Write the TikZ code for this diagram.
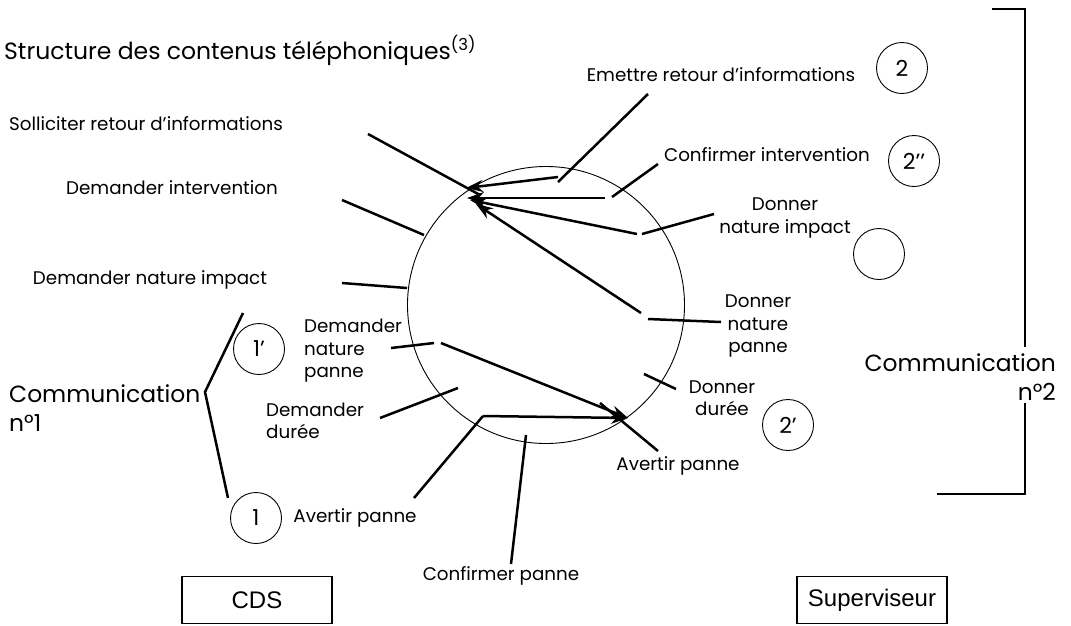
\documentclass[tikz,border=0pt]{standalone}
\usepackage{fontspec}
\setmainfont{Poppins}
\newfontfamily\boxfont{Liberation Sans}
\usetikzlibrary{arrows.meta}

\begin{document}
\begin{tikzpicture}[x=1pt,y=-1pt,>={Stealth[length=17pt,width=12pt]}]
\tikzstyle{lbl}=[inner sep=0pt,font=\fontsize{18.3}{22.5}\selectfont,align=center]
\tikzstyle{big}=[inner sep=0pt,font=\fontsize{23.4}{29}\selectfont]
\tikzstyle{tick}=[line width=2.5pt]
\tikzstyle{num}=[draw,circle,line width=.9pt,minimum size=51pt,inner sep=0pt,font=\fontsize{22}{22}\selectfont]
\tikzstyle{actor}=[draw,line width=1.2pt,minimum width=150pt,minimum height=47pt,inner sep=0pt,font=\boxfont\fontsize{24}{24}\selectfont]
\useasboundingbox (0,0) rectangle (1071,625);

% the exchange circle
\node[draw,circle,line width=.9pt,minimum size=277pt,inner sep=0pt] (cyc) at (546,305) {};

% ticks: outer end / inner end
\foreach \n/\ox/\oy/\ix/\iy in {sol/368/134/480/195, dint/342/200/424/235, dni/342/283/407/288,
  dnp/391/348/434/343, dd/380/418/458/388, apa/414/498/483/416, cp/511/564/526/435,
  apb/658/451/600/403, ddb/676/389/644/374, dnpb/721/322/648/319, dnib/714/214/642/234,
  ci/658/164/612/197, emr/648/94/558/182}
  {\coordinate (\n-o) at (\ox,\oy); \coordinate (\n-i) at (\ix,\iy); \draw[tick] (\n-o) -- (\n-i);}

% arrows
\coordinate (emr-s) at (558,177);
\coordinate (ci-s) at (605,198);
\coordinate (dnib-s) at (637,234);
\coordinate (dnpb-s) at (641,313);
\coordinate (dnp-s) at (441,343);
\coordinate (ta) at (466,188);
\coordinate (tb) at (467,198);
\coordinate (tc) at (470,200);
\coordinate (td) at (476,204);
\coordinate (te) at (628,418);
\draw[tick,->] (emr-s) -- (ta);
\draw[tick,->] (ci-s) -- (tb);
\draw[tick,->] (dnib-s) -- (tc);
\draw[tick,->] (dnpb-s) -- (td);
\draw[tick,->] (dnp-s) -- (te);
\draw[tick,->] (apa-i) -- (te);

% labels
\node[inner sep=0pt,anchor=west,font=\fontsize{23.5}{23.5}\selectfont] (title) at (4,50) {Structure des contenus téléphoniques\textsuperscript{(3)}};
\node[lbl] (l-emr) at (721,75) {Emettre retour d’informations};
\node[lbl] (l-sol) at (146,124) {Solliciter retour d’informations};
\node[lbl] (l-ci) at (767,155) {Confirmer intervention};
\node[lbl] (l-dint) at (172,188) {Demander intervention};
\node[lbl] (l-dnib) at (785,218) {Donner\\nature impact};
\node[lbl] (l-dni) at (150,280) {Demander nature impact};
\node[lbl] (l-dnpb) at (758,326) {Donner\\nature\\panne};
\node[lbl,anchor=west,align=left] (l-dnp) at (304,351) {Demander\\nature\\panne};
\node[lbl,anchor=west,align=left] (l-dd) at (266,421) {Demander\\durée};
\node[lbl] (l-ddb) at (722,398) {Donner\\durée};
\node[lbl] (l-apb) at (678,466) {Avertir panne};
\node[lbl] (l-apa) at (355,518) {Avertir panne};
\node[lbl] (l-cp) at (501,576) {Confirmer panne};

% step numbers
\node[num] (n2) at (902,68) {2};
\node[num] (n2b) at (914,161) {2’’};
\node[num] (n2c) at (879,254) {};
\node[num] (n1b) at (259,349) {1’};
\node[num] (n2a) at (788,425) {2’};
\node[num] (n1) at (256,518) {1};

% the two communications
\node[big,anchor=west,align=left] (com1) at (9,408) {Communication\\n°1};
\node[big,anchor=east,align=right] (com2) at (1056,377) {Communication\\n°2};
\draw[tick] (243,313) -- (205,392) -- (228,498);
\draw[tick] (992,9) -- (1025,9) -- (1025,347);
\draw[tick] (1025,403) -- (1025,494) -- (937,494);

% actors
\node[actor] (cds) at (257,600) {CDS};
\node[actor] (sup) at (872,600) {Superviseur};
\end{tikzpicture}
\end{document}
